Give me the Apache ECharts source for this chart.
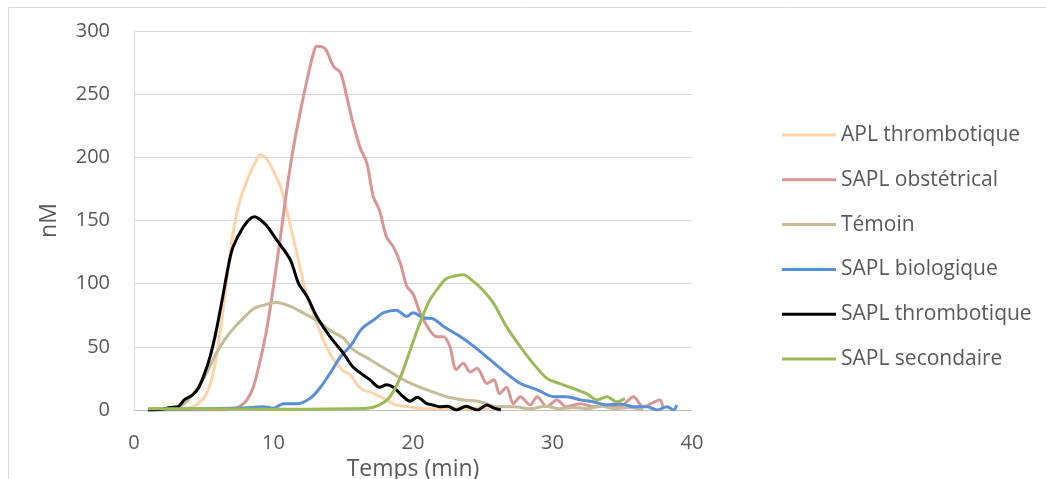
<!DOCTYPE html>
<html>
<head>
<meta charset="utf-8">
<script src="https://cdn.jsdelivr.net/npm/echarts@6/dist/echarts.min.js"></script>
<style>
html,body{margin:0;padding:0;background:#fff;}
#chart{width:1046px;height:479px;}
</style>
</head>
<body>
<div id="chart"></div>
<script>
// Time (min) and thrombin (nM) values
var seriesNames = ['APL thrombotique', 'SAPL obstétrical', 'Témoin', 'SAPL biologique', 'SAPL thrombotique', 'SAPL secondaire'];
var xTicks = [0, 10, 20, 30, 40];
var yTicks = [0, 50, 100, 150, 200, 250, 300];

var aplThrombT = [1, 2, 3, 3.8, 4.25, 4.7, 5.2, 5.6, 5.9, 6.3, 6.65, 7.1, 7.6, 8.3, 8.7, 9.03, 9.5, 10.0, 10.5, 10.95, 11.4, 11.9, 12.4, 12.85, 13.3, 13.8, 14.3, 15.0, 15.5, 16.0, 16.4, 17.0, 17.4, 18.1, 18.8, 19.4, 20.0, 20.7, 21.5, 22.4, 23.2, 24.0, 24.7, 25.5];
var aplThrombV = [1, 1, 1, 1.5, 2.6, 6, 13, 26, 42, 72, 103, 140, 166, 187, 196, 202, 199, 189, 177, 158, 137, 113, 90, 77, 63, 50, 40, 31, 28, 20, 16, 14, 12, 8, 4, 3, 2, 1, 1, 1, 2, 1, 2, 0];

var saplObstT = [1, 3, 5, 6.5, 7.1, 7.6, 8.1, 8.55, 9.0, 9.5, 10.0, 10.5, 10.95, 11.4, 11.9, 12.4, 12.85, 13.1, 13.7, 14.3, 14.8, 15.25, 15.7, 16.2, 16.7, 17.15, 17.6, 18.1, 18.6, 19.1, 19.55, 20.0, 20.5, 21.2, 21.7, 22.2, 22.65, 23.1, 23.6, 24.1, 24.6, 25.3, 25.8, 26.2, 26.7, 27.2, 27.7, 28.4, 28.9, 29.6, 30.3, 31.0, 32.0, 32.9, 33.9, 34.8, 35.8, 36.5, 37.7, 37.9];
var saplObstV = [0, 0, 0, 0, 1, 3, 8, 18, 37, 63, 98, 137, 174, 206, 235, 261, 282, 288, 286, 272, 267, 248, 227, 208, 195, 169, 158, 137, 129, 116, 98, 92, 77, 63, 58, 58, 50, 32, 37, 30, 33, 21, 24, 13, 18, 5, 10.5, 4, 10.5, 2.6, 8, 2.6, 5, 2.6, 4, 2.6, 10.5, 2.6, 8, 2.6];

var temoinT = [1, 2, 3, 3.3, 3.8, 4.25, 4.7, 5.2, 5.9, 6.65, 7.6, 8.55, 9.3, 10.2, 11.2, 12.1, 13.1, 14.05, 15.0, 15.7, 16.9, 18.1, 19.3, 20.5, 21.5, 22.4, 23.6, 24.8, 26.0, 27.2, 28.4, 29.5, 30.5, 31.5, 32.5, 33.5, 34.5, 35.5, 36.5];
var temoinV = [1, 1, 1.5, 2.6, 7, 13, 20, 29, 45, 58, 70, 80, 83, 85, 82, 77, 71, 63, 57, 48, 40, 32, 24, 18, 14, 10.5, 8, 6.6, 2.6, 2.6, 1, 3, 1, 2, 1, 3, 1, 2, 0];

var saplBioT = [1, 3, 5, 7.6, 9.3, 10.0, 10.7, 11.7, 12.6, 13.3, 14.05, 14.8, 15.6, 16.3, 17.15, 17.9, 18.8, 19.55, 20.0, 20.75, 21.5, 22.2, 23.4, 24.3, 25.5, 26.7, 27.7, 28.9, 30.1, 31.0, 32.0, 32.9, 33.9, 34.8, 35.8, 36.8, 37.5, 38.2, 38.7, 38.9];
var saplBioV = [0, 0.5, 1, 1.5, 2.6, 1.3, 5, 5, 9, 17, 29, 42, 52, 64, 71, 77, 79, 74, 77, 73, 72, 66, 58, 51, 40, 29, 21, 16, 10.5, 10.5, 8, 6.6, 4, 5, 2.6, 2.6, 0, 2.6, 0, 4];

var saplThrombT = [1, 2, 2.6, 3.2, 3.6, 4.2, 4.6, 5.0, 5.45, 5.9, 6.4, 6.8, 7.1, 7.84, 8.4, 8.67, 9.0, 9.5, 10.2, 11.2, 11.8, 12.4, 13.1, 14.05, 15.0, 15.7, 16.9, 17.6, 18.1, 18.6, 19.3, 19.8, 20.3, 21.0, 21.4, 21.9, 22.5, 23.1, 23.8, 24.6, 25.3, 25.8, 26.3];
var saplThrombV = [0, 0.5, 2, 3, 8, 12, 17, 27, 42, 63, 92, 116, 129, 145, 152, 153, 151, 146, 135, 119, 100, 90, 74, 58, 45, 34, 24, 18, 20, 18, 10.5, 7, 10, 5, 4, 2.6, 3, 0, 3, 0, 4, 1.5, 0];

var saplSecT = [1, 5, 10, 15, 16.7, 17.6, 18.35, 19.1, 19.8, 20.5, 21.2, 21.9, 22.4, 23.0, 23.6, 24.3, 25.0, 25.8, 26.7, 27.7, 28.6, 29.6, 30.5, 31.5, 32.45, 33.2, 33.9, 34.6, 35.2];
var saplSecV = [1, 1, 0.5, 1, 1.3, 4, 10.5, 26, 47.5, 69, 87, 98, 104, 106, 107, 102, 95, 84, 66, 50, 37, 25, 21, 17, 13, 8, 10.5, 6.6, 9];

var colors = ['#FFD3A8', '#DA9694', '#C4BD97', '#5A8FD8', '#000000', '#9BBB59'];

function pairs(t, v) { return t.map(function (x, i) { return [x, v[i]]; }); }
var allData = [
  pairs(aplThrombT, aplThrombV),
  pairs(saplObstT, saplObstV),
  pairs(temoinT, temoinV),
  pairs(saplBioT, saplBioV),
  pairs(saplThrombT, saplThrombV),
  pairs(saplSecT, saplSecV)
];

var font = 'Open Sans';
var chart = echarts.init(document.getElementById('chart'), null, { renderer: 'canvas' });
chart.setOption({
  animation: false,
  backgroundColor: '#ffffff',
  textStyle: { fontFamily: font },
  graphic: [{
    type: 'rect', silent: true,
    shape: { x: 8.5, y: 7.5, width: 1100, height: 600 },
    style: { fill: 'none', stroke: '#d9d9d9', lineWidth: 1 }
  }],
  grid: { left: 134, right: 354, top: 31, bottom: 69, containLabel: false, outerBoundsMode: 'none' },
  legend: {
    orient: 'vertical',
    left: 777,
    top: 119.5,
    itemWidth: 54,
    itemHeight: 3,
    itemGap: 23.8,
    icon: 'rect',
    data: seriesNames,
    textStyle: { fontFamily: font, fontSize: 21, color: '#595959', lineHeight: 21 }
  },
  xAxis: {
    type: 'value', min: xTicks[0], max: xTicks[xTicks.length - 1], interval: 10,
    name: 'Temps (min)', nameLocation: 'middle', nameGap: 35,
    nameTextStyle: { fontFamily: font, fontSize: 23, color: '#595959' },
    axisLine: { show: true, lineStyle: { color: '#bfbfbf', width: 1 } },
    axisTick: { show: false },
    splitLine: { show: false },
    axisLabel: { fontFamily: font, fontSize: 20, color: '#595959', margin: 23 }
  },
  yAxis: {
    type: 'value', min: yTicks[0], max: yTicks[yTicks.length - 1], interval: 50,
    name: 'nM', nameLocation: 'middle', nameGap: 73, nameRotate: 90,
    nameTextStyle: { fontFamily: font, fontSize: 23, color: '#595959' },
    axisLine: { show: true, lineStyle: { color: '#d9d9d9', width: 1 } },
    axisTick: { show: false },
    splitLine: { show: true, lineStyle: { color: '#d9d9d9', width: 1 } },
    axisLabel: { fontFamily: font, fontSize: 20, color: '#595959', margin: 24 }
  },
  series: seriesNames.map(function (name, i) {
    return {
      name: name, type: 'line', data: allData[i],
      smooth: 0.3, showSymbol: false, symbol: 'none',
      color: colors[i],
      lineStyle: { width: 3, color: colors[i] },
      itemStyle: { color: colors[i] }
    };
  })
});
</script>
</body>
</html>
